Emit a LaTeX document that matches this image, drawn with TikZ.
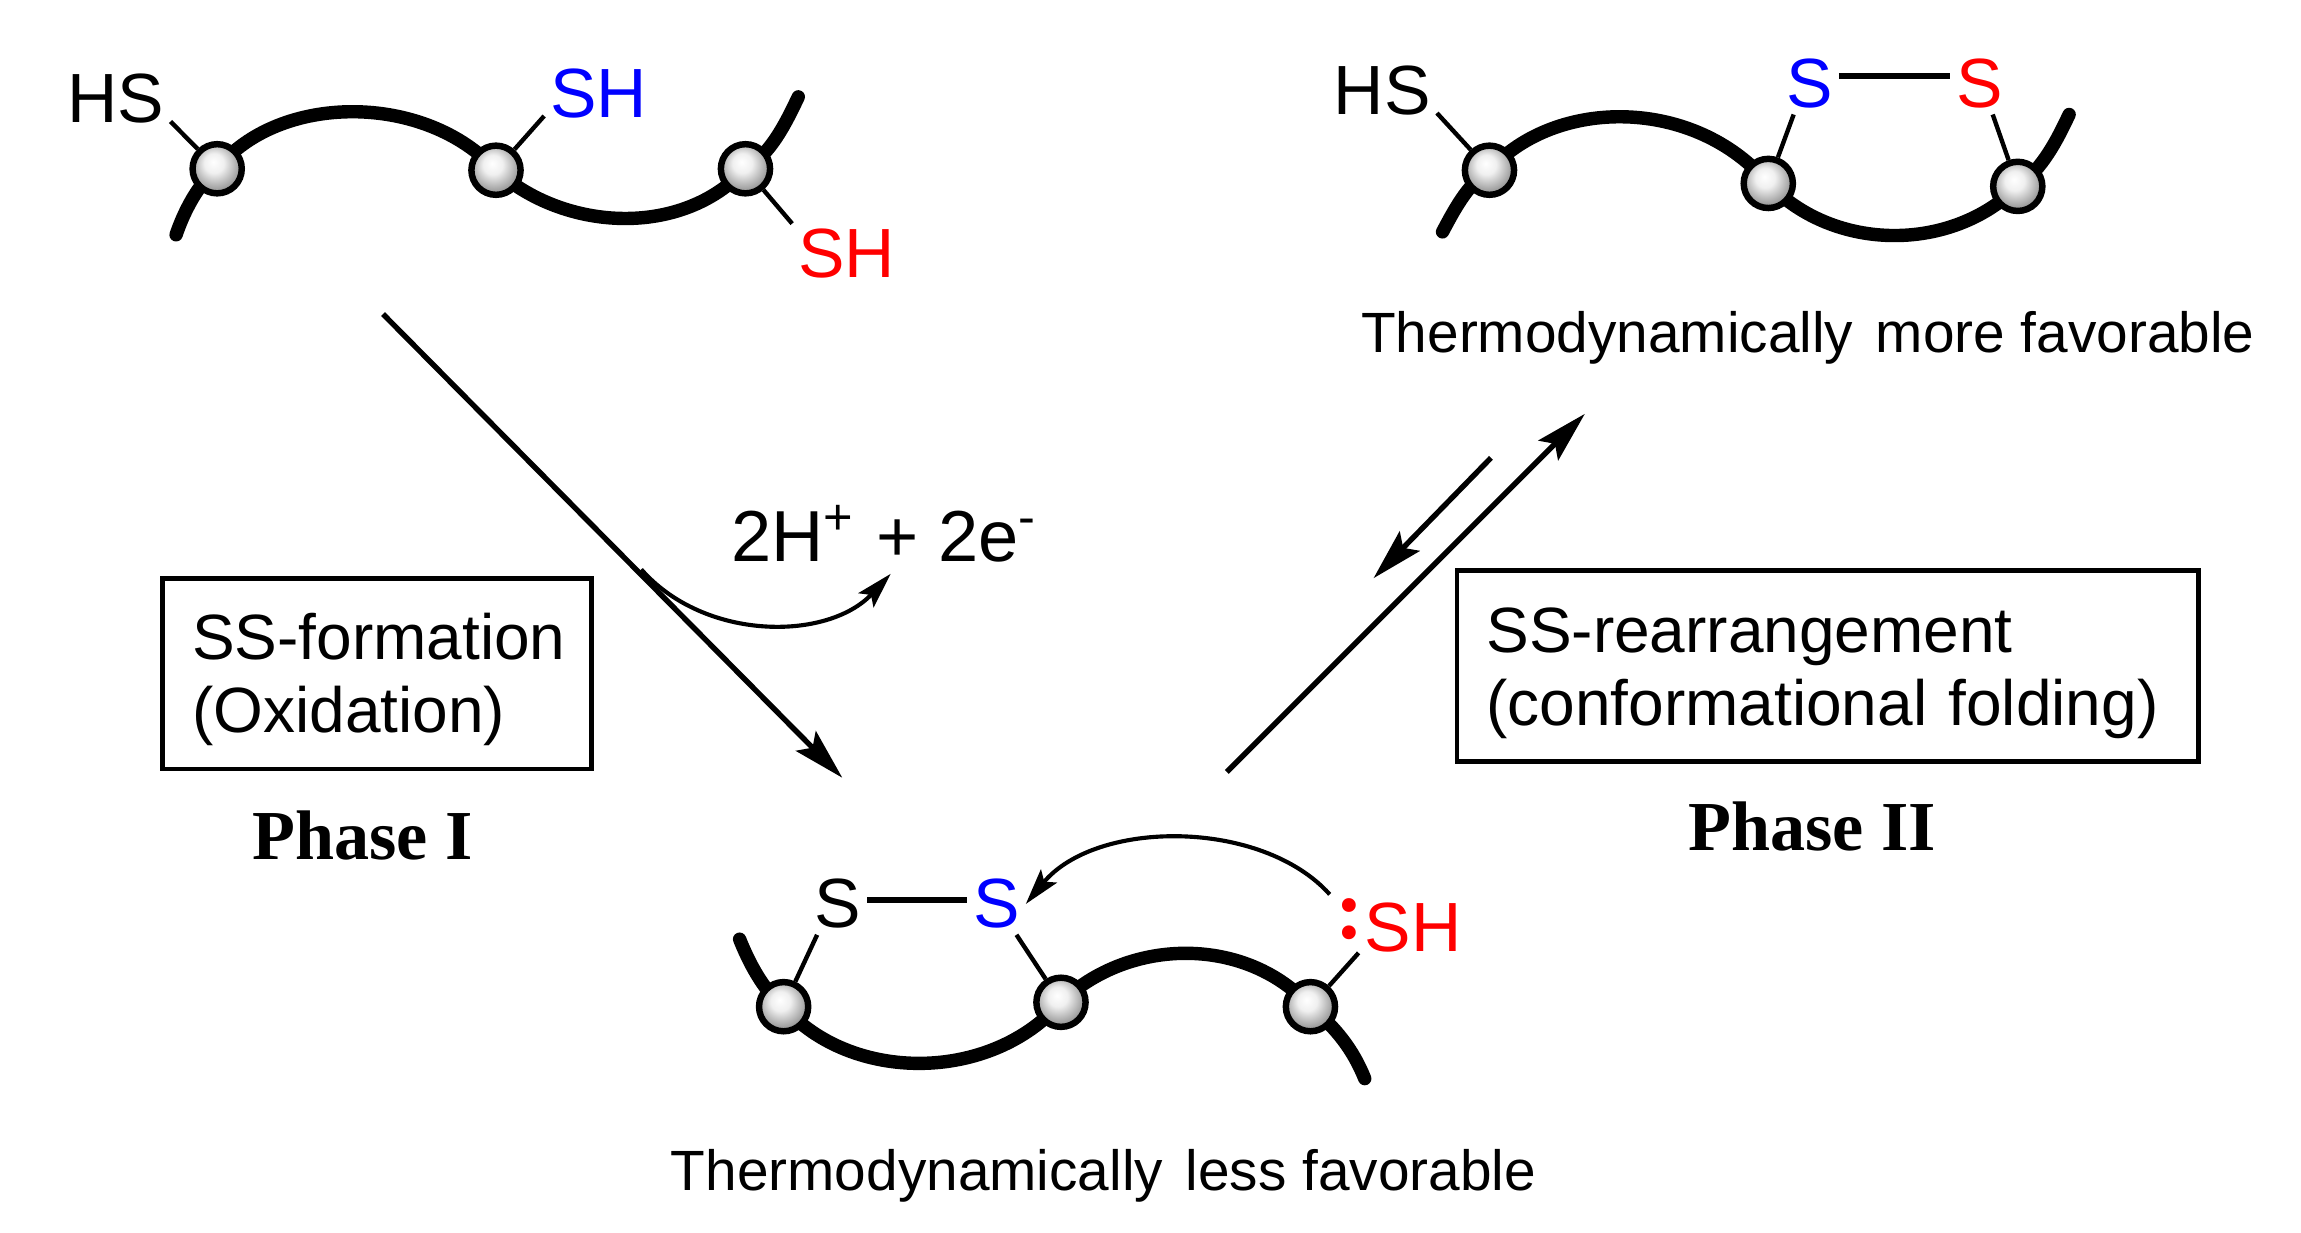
\documentclass[tikz,border=0pt]{standalone}
\usepackage{fontspec}
\setmainfont{Liberation Sans}
\newfontfamily\phasefont{Liberation Serif}
\usetikzlibrary{arrows.meta,backgrounds}
\pgfdeclareradialshading{sulfurball}{\pgfpoint{-4bp}{7bp}}{color(0bp)=(white); color(10bp)=(white!94!black); color(23bp)=(black!35); color(34bp)=(black!60); color(50bp)=(black!75)}
\tikzset{
	chainline/.style={line width=2.6pt,line cap=round},
	bondline/.style={line width=0.85pt},
	ssbond/.style={line width=1.1pt},
	ball/.style={circle,draw=black,line width=1.25pt,minimum size=0.335cm,inner sep=0pt,shading=sulfurball},
	atomlabel/.style={inner sep=1pt,font=\fontsize{13.5}{16}\selectfont},
	caption/.style={inner sep=0pt,font=\fontsize{11}{13}\selectfont},
	boxlabel/.style={draw=black,line width=0.95pt,inner sep=0pt,align=left,text height=11.3pt,font=\fontsize{12.4}{14.2}\selectfont},
	phaselabel/.style={inner sep=0pt,font=\fontsize{13.6}{16}\selectfont\phasefont\bfseries},
	mainarrow/.style={line width=1.05pt,-{Stealth[length=10pt,width=5.4pt,inset=1.8pt]}},
	curlyarrow/.style={line width=0.8pt,-{Stealth[length=7pt,width=4pt,inset=1.4pt]}}
}
\begin{document}
\begin{tikzpicture}[x=0.01cm,y=-0.01cm]
	\useasboundingbox (0,0) rectangle (1568,840.2);
	\node[ball] (ballA) at (148,115) {};
	\node[ball] (ballB) at (338,116) {};
	\node[ball] (ballC) at (508,115) {};
	\node[ball] (ballD) at (1015,116) {};
	\node[ball] (ballE) at (1205,125) {};
	\node[ball] (ballF) at (1375,127) {};
	\node[ball] (ballG) at (534,686) {};
	\node[ball] (ballH) at (723,683) {};
	\node[ball] (ballI) at (893,686) {};
	\node[atomlabel] (hsA) at (79,67) {HS};
	\node[atomlabel,text=blue] (shB) at (408,64) {SH};
	\node[atomlabel,text=red] (shC) at (577,173) {SH};
	\node[atomlabel] (hsD) at (942,62) {HS};
	\node[atomlabel,text=blue] (sE) at (1233,57) {S};
	\node[atomlabel,text=red] (sF) at (1349,57) {S};
	\node[atomlabel] (sG) at (571,616) {S};
	\node[atomlabel,text=blue] (sH) at (679,616) {S};
	\node[atomlabel,text=red] (shI) at (963,632) {SH};
	\node[inner sep=1pt,text=red,font=\fontsize{16.5}{18}\selectfont\phasefont\bfseries] (lonepair) at (920,626) {:};
	\node[caption] (moreFav) at (1232,230) {Thermodynamically\hspace{0.4em}more favorable};
	\node[caption] (lessFav) at (752,801) {Thermodynamically\hspace{0.4em}less favorable};
	\node[boxlabel,text width=2.52cm,minimum height=1.3cm,minimum width=2.92cm] (boxOne) at (257,459) {\mbox{SS-formation}\\(Oxidation)};
	\node[boxlabel,text width=4.65cm,minimum height=1.3cm,minimum width=5.05cm] (boxTwo) at (1245.5,454) {SS-rearrangement\\(conformational folding)};
	\node[phaselabel] (phaseOne) at (247,569) {Phase I};
	\node[phaselabel] (phaseTwo) at (1235,563) {Phase II};
	\node[inner sep=0pt,font=\fontsize{14}{16}\selectfont] (lost) at (603,364) {2H\textsuperscript{+} + 2e\textsuperscript{-}};
	\coordinate (endA) at (120,160);
	\coordinate (endC) at (544,66);
	\coordinate (endD) at (983,158);
	\coordinate (endF) at (1410,78);
	\coordinate (endG) at (504,640);
	\coordinate (endI) at (930,735);
	\coordinate (oneStart) at (261,214);
	\coordinate (oneEnd) at (574,530);
	\coordinate (fork) at (437,388);
	\coordinate (lostEnd) at (607,391);
	\coordinate (upStart) at (836,526);
	\coordinate (upEnd) at (1080,282);
	\coordinate (downStart) at (1016,312);
	\coordinate (downEnd) at (936,394);
	\begin{scope}[on background layer]
		\draw[chainline] (endA) .. controls (125,145) and (135,125) .. (ballA.center);
		\draw[chainline] (ballA.center) .. controls (190,63) and (290,63) .. (ballB.center);
		\draw[chainline] (ballB.center) .. controls (385,158) and (465,162) .. (ballC.center);
		\draw[chainline] (ballC.center) .. controls (525,105) and (535,85) .. (endC);
		\draw[chainline] (endD) .. controls (990,145) and (1000,125) .. (ballD.center);
		\draw[chainline] (ballD.center) .. controls (1060,66) and (1155,66) .. (ballE.center);
		\draw[chainline] (ballE.center) .. controls (1250,172) and (1330,172) .. (ballF.center);
		\draw[chainline] (ballF.center) .. controls (1392,115) and (1402,95) .. (endF);
		\draw[chainline] (endG) .. controls (510,655) and (520,675) .. (ballG.center);
		\draw[chainline] (ballG.center) .. controls (580,738) and (675,738) .. (ballH.center);
		\draw[chainline] (ballH.center) .. controls (770,638) and (850,638) .. (ballI.center);
		\draw[chainline] (ballI.center) .. controls (910,700) and (922,715) .. (endI);
	\end{scope}
	\draw[bondline] (hsA.-23) -- (ballA);
	\draw[bondline] (shB.202) -- (ballB);
	\draw[bondline] (shC.151) -- (ballC);
	\draw[bondline] (hsD.-22) -- (ballD);
	\draw[bondline] (sE.243) -- (ballE);
	\draw[bondline] (sF.-67) -- (ballF);
	\draw[bondline] (sG.236) -- (ballG);
	\draw[bondline] (sH.-57) -- (ballH);
	\draw[bondline] (shI.205) -- (ballI);
	\draw[ssbond] (sE.15) -- (sF.165);
	\draw[ssbond] (sG.8) -- (sH.172);
	\draw[mainarrow] (oneStart) -- (oneEnd);
	\draw[mainarrow] (upStart) -- (upEnd);
	\draw[mainarrow] (downStart) -- (downEnd);
	\draw[curlyarrow] (fork) .. controls (480,437) and (564,437) .. (lostEnd);
	\draw[curlyarrow] (lonepair.130) .. controls (860,558) and (747,558) .. (sH.east);
\end{tikzpicture}
\end{document}
